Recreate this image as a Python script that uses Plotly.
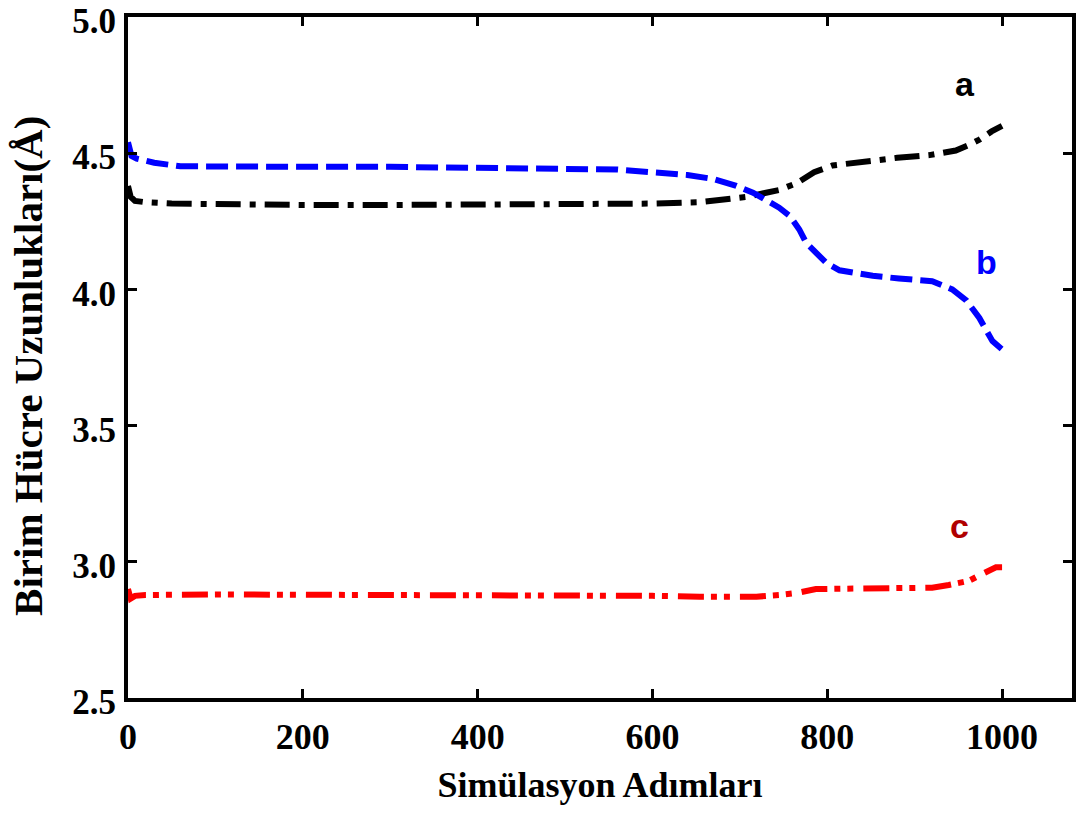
import plotly.graph_objects as go

# Series a (black, dash-dot)
a_x = [0, 3, 8, 20, 50, 100, 200, 300, 400, 500, 600, 654, 690, 709, 730, 745, 765, 785,
       806, 830, 852, 880, 917, 947, 962, 974, 988, 1000]
a_y = [4.38, 4.34, 4.325, 4.32, 4.315, 4.312, 4.31, 4.31, 4.31, 4.31, 4.315, 4.32, 4.33, 4.34,
       4.355, 4.365, 4.39, 4.43, 4.455, 4.465, 4.475, 4.483, 4.493, 4.51, 4.53, 4.55, 4.58, 4.60]

# Series b (blue, dashed)
b_x = [0, 4, 10, 30, 60, 100, 200, 300, 400, 500, 560, 600, 640, 670, 696, 715, 730, 745,
       757, 768, 776, 788, 799, 814, 852, 882, 920, 943, 959, 974, 989, 1000]
b_y = [4.54, 4.49, 4.48, 4.465, 4.452, 4.45, 4.45, 4.45, 4.447, 4.445, 4.44, 4.43, 4.42, 4.405,
       4.38, 4.355, 4.33, 4.30, 4.27, 4.22, 4.17, 4.13, 4.097, 4.07, 4.05, 4.04, 4.03, 4.0,
       3.96, 3.895, 3.81, 3.78]

# Series c (red, dash-dot-dot)
c_x = [0, 3, 8, 20, 100, 200, 300, 400, 500, 600, 654, 719, 745, 764, 787, 806, 863, 920,
       939, 962, 977, 993, 1000]
c_y = [2.90, 2.865, 2.875, 2.878, 2.88, 2.88, 2.88, 2.88, 2.878, 2.875, 2.872, 2.872, 2.878,
       2.885, 2.90, 2.90, 2.902, 2.905, 2.915, 2.93, 2.955, 2.98, 2.98]

x_ticks = [0, 200, 400, 600, 800, 1000]
y_ticks = [2.5, 3.0, 3.5, 4.0, 4.5, 5.0]
y_tick_text = ["2.5", "3.0", "3.5", "4.0", "4.5", "5.0"]

labels = ["a", "b", "c"]
label_x = [958, 982, 951]
label_y = [4.755, 4.10, 3.13]
label_colors = ["#000000", "#0000ff", "#b00000"]

x_title = "Simülasyon Adımları"
y_title = "Birim Hücre Uzunlukları(Å)"

fig = go.Figure()
fig.add_trace(go.Scatter(x=a_x, y=a_y, mode="lines",
                         line=dict(color="#000000", width=6, dash="25px,9px,6px,9px"),
                         showlegend=False))
fig.add_trace(go.Scatter(x=b_x, y=b_y, mode="lines",
                         line=dict(color="#0000ff", width=6, dash="22px,8px"),
                         showlegend=False))
fig.add_trace(go.Scatter(x=c_x, y=c_y, mode="lines",
                         line=dict(color="#ff0000", width=6, dash="26px,7px,6px,7px,6px,10px"),
                         showlegend=False))

for t, lx, ly, col in zip(labels, label_x, label_y, label_colors):
    fig.add_annotation(x=lx, y=ly, text="<b>%s</b>" % t, showarrow=False,
                       font=dict(family="Liberation Sans, Arial", size=34, color=col),
                       xanchor="center", yanchor="middle")

serif = "Liberation Serif, Times New Roman, serif"

fig.add_annotation(xref="paper", yref="paper", x=-0.106, y=0.4875, text=y_title,
                   textangle=-90, showarrow=False, xanchor="center", yanchor="middle",
                   font=dict(family=serif, size=41, color="black", weight="bold"))

fig.update_layout(
    width=1082, height=819,
    margin=dict(l=128, r=10, t=17, b=121),
    plot_bgcolor="white", paper_bgcolor="white",
    xaxis=dict(range=[0, 1080], tickvals=x_ticks, ticks="inside", ticklen=9, tickwidth=3,
               tickcolor="black", showline=True, linewidth=4, linecolor="black",
               mirror="ticks", showgrid=False, zeroline=False, automargin=False,
               ticklabeloverflow="allow", ticklabelstandoff=4,
               tickfont=dict(family=serif, size=36, color="black", weight="bold"),
               title=dict(text=x_title,
                          font=dict(family=serif, size=36, color="black", weight="bold"),
                          standoff=17)),
    yaxis=dict(range=[2.5, 5.0], tickvals=y_ticks, ticktext=y_tick_text, ticks="inside",
               ticklen=9, tickwidth=3, tickcolor="black", showline=True, linewidth=4,
               linecolor="black", mirror="ticks", showgrid=False, zeroline=False,
               automargin=False, ticklabeloverflow="allow", ticklabelstandoff=1,
               ticklabelshift=4,
               tickfont=dict(family=serif, size=35, color="black", weight="bold")),
)

fig.write_html("out.html", config={"displayModeBar": False},
               post_script="document.body.style.margin='0';")
